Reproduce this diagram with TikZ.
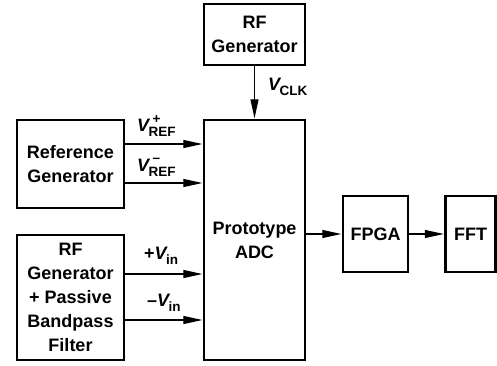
\documentclass[tikz,border=0pt]{standalone}
\usepackage{fontspec}
\setmainfont{Liberation Sans}
\usetikzlibrary{arrows.meta}
\newcommand\bigf{\fontsize{18}{24}\selectfont\bfseries}
\newcommand\smf{\fontsize{13.5}{14}\selectfont\bfseries}
\newcommand\Vlab[2]{{\bigf\itshape V}\kern-0.5pt\raisebox{-5pt}{\smf\rlap{\raisebox{13pt}{\hspace{4pt}#2}}#1}}
\begin{document}
\begin{tikzpicture}[x=1pt,y=1pt,
  blk/.style={draw,line width=2.4pt,inner sep=0pt,align=center,font=\bigf},
  arr/.style={line width=1.1pt,-{Triangle[length=19pt,width=8pt]},shorten >=0.5pt},
  lab/.style={inner sep=0pt}]
\useasboundingbox (0,0) rectangle (497,365);
\node[blk,minimum width=101,minimum height=61] (rf) at (254.5,330.5) {RF\\Generator};
\node[blk,minimum width=101,minimum height=240] (adc) at (254.5,125) {Prototype\\ADC};
\node[blk,minimum width=107,minimum height=88] (ref) at (70.5,201) {Reference\\Generator};
\node[blk,minimum width=107,minimum height=125] (flt) at (70.5,67.5) {RF\\Generator\\+ Passive\\Bandpass\\Filter};
\node[blk,minimum width=65,minimum height=76] (fpga) at (375.5,131) {FPGA};
\node[blk,minimum width=50,minimum height=76] (fft) at (470.5,131) {FFT};
\coordinate (yp) at (0,221);
\coordinate (ym) at (0,182);
\coordinate (yip) at (0,91);
\coordinate (yim) at (0,45);
\draw[arr] (rf.south) -- (adc.north);
\draw[arr] (ref.east |- yp) -- (adc.west |- yp);
\draw[arr] (ref.east |- ym) -- (adc.west |- ym);
\draw[arr] (flt.east |- yip) -- (adc.west |- yip);
\draw[arr] (flt.east |- yim) -- (adc.west |- yim);
\draw[arr] (adc.east |- fpga.west) -- (fpga.west);
\draw[arr] (fpga.east) -- (fft.west);
\node[lab,anchor=west] (lclk) at (268,278) {\Vlab{CLK}{}};
\node[lab,anchor=west] (lrp) at (137,239) {\Vlab{REF}{+}};
\node[lab,anchor=west] (lrm) at (137,198) {\Vlab{REF}{\raisebox{1pt}{\char"2013}}};
\node[lab,anchor=west] (lip) at (144,109) {{\bigf+}\Vlab{in}{}};
\node[lab,anchor=west] (lim) at (147,62) {{\bigf\char"2013}\Vlab{in}{}};
\end{tikzpicture}
\end{document}
